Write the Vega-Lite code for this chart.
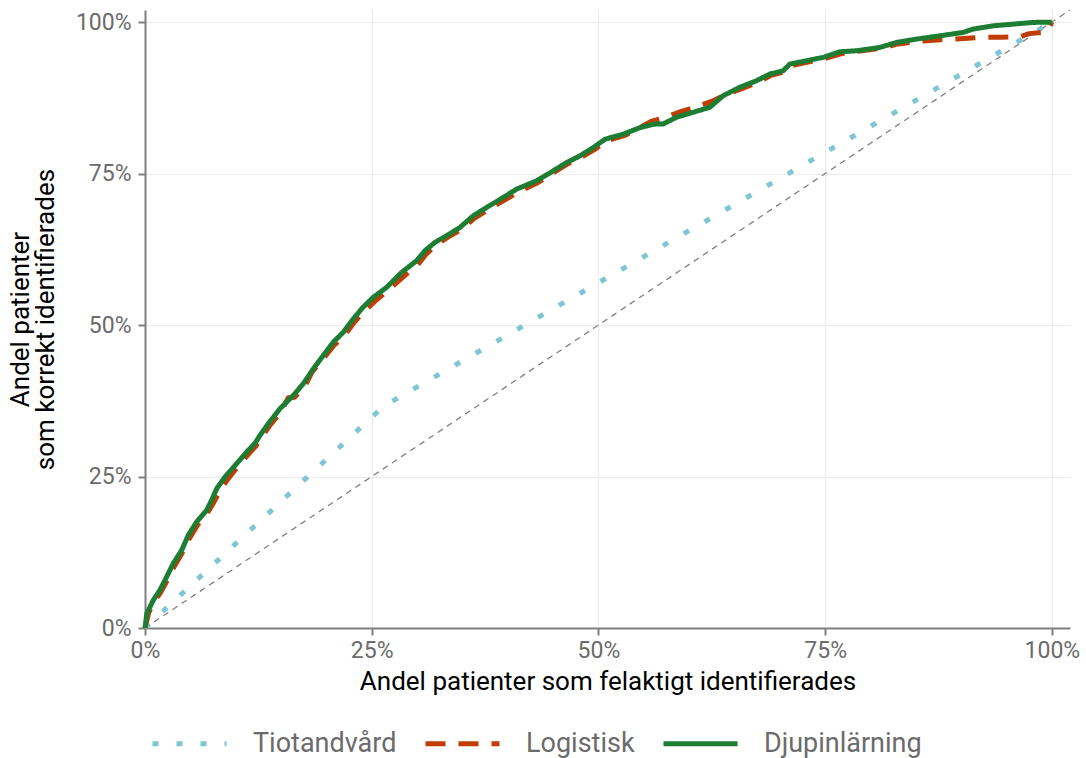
{
  "$schema": "https://vega.github.io/schema/vega-lite/v6.json",
  "width": 925,
  "height": 618,
  "autosize": {"type": "none"},
  "padding": {"left": 145, "top": 10, "right": 16, "bottom": 130},
  "background": "white",
  "config": {
    "view": {"stroke": null},
    "font": "Roboto",
    "axis": {
      "domainColor": "#808080",
      "domainWidth": 2,
      "tickColor": "#808080",
      "tickWidth": 2,
      "tickSize": 7,
      "gridColor": "#ebebeb",
      "gridWidth": 1,
      "labelColor": "#6b6b6b",
      "labelFontSize": 23,
      "labelFont": "Roboto",
      "titleFont": "Roboto",
      "titleFontSize": 26,
      "titleLineHeight": 25,
      "titleFontWeight": "normal",
      "titleColor": "#000000"
    },
    "legend": {
      "labelFont": "Roboto",
      "labelFontSize": 27,
      "labelColor": "#6b6b6b"
    }
  },
  "datasets": {
    "roc": [
      {"model": "Tiotandvård", "i": 0, "fpr": 0.0, "tpr": 0.0},
      {"model": "Tiotandvård", "i": 1, "fpr": 0.263, "tpr": 0.366},
      {"model": "Tiotandvård", "i": 2, "fpr": 1.0, "tpr": 1.0},

      {"model": "Logistisk", "i": 0, "fpr": 0.0, "tpr": 0.0},
      {"model": "Logistisk", "i": 1, "fpr": 0.002, "tpr": 0.012},
      {"model": "Logistisk", "i": 2, "fpr": 0.004, "tpr": 0.025},
      {"model": "Logistisk", "i": 3, "fpr": 0.010, "tpr": 0.043},
      {"model": "Logistisk", "i": 4, "fpr": 0.017, "tpr": 0.058},
      {"model": "Logistisk", "i": 5, "fpr": 0.025, "tpr": 0.080},
      {"model": "Logistisk", "i": 6, "fpr": 0.032, "tpr": 0.101},
      {"model": "Logistisk", "i": 7, "fpr": 0.041, "tpr": 0.124},
      {"model": "Logistisk", "i": 8, "fpr": 0.049, "tpr": 0.148},
      {"model": "Logistisk", "i": 9, "fpr": 0.058, "tpr": 0.170},
      {"model": "Logistisk", "i": 10, "fpr": 0.068, "tpr": 0.188},
      {"model": "Logistisk", "i": 11, "fpr": 0.075, "tpr": 0.205},
      {"model": "Logistisk", "i": 12, "fpr": 0.081, "tpr": 0.222},
      {"model": "Logistisk", "i": 13, "fpr": 0.090, "tpr": 0.243},
      {"model": "Logistisk", "i": 14, "fpr": 0.102, "tpr": 0.266},
      {"model": "Logistisk", "i": 15, "fpr": 0.113, "tpr": 0.285},
      {"model": "Logistisk", "i": 16, "fpr": 0.122, "tpr": 0.300},
      {"model": "Logistisk", "i": 17, "fpr": 0.128, "tpr": 0.313},
      {"model": "Logistisk", "i": 18, "fpr": 0.137, "tpr": 0.333},
      {"model": "Logistisk", "i": 19, "fpr": 0.150, "tpr": 0.357},
      {"model": "Logistisk", "i": 20, "fpr": 0.158, "tpr": 0.380},
      {"model": "Logistisk", "i": 21, "fpr": 0.165, "tpr": 0.381},
      {"model": "Logistisk", "i": 22, "fpr": 0.176, "tpr": 0.398},
      {"model": "Logistisk", "i": 23, "fpr": 0.184, "tpr": 0.422},
      {"model": "Logistisk", "i": 24, "fpr": 0.197, "tpr": 0.445},
      {"model": "Logistisk", "i": 25, "fpr": 0.208, "tpr": 0.466},
      {"model": "Logistisk", "i": 26, "fpr": 0.220, "tpr": 0.483},
      {"model": "Logistisk", "i": 27, "fpr": 0.231, "tpr": 0.505},
      {"model": "Logistisk", "i": 28, "fpr": 0.242, "tpr": 0.523},
      {"model": "Logistisk", "i": 29, "fpr": 0.254, "tpr": 0.540},
      {"model": "Logistisk", "i": 30, "fpr": 0.268, "tpr": 0.557},
      {"model": "Logistisk", "i": 31, "fpr": 0.285, "tpr": 0.580},
      {"model": "Logistisk", "i": 32, "fpr": 0.301, "tpr": 0.600},
      {"model": "Logistisk", "i": 33, "fpr": 0.310, "tpr": 0.617},
      {"model": "Logistisk", "i": 34, "fpr": 0.321, "tpr": 0.632},
      {"model": "Logistisk", "i": 35, "fpr": 0.334, "tpr": 0.645},
      {"model": "Logistisk", "i": 36, "fpr": 0.349, "tpr": 0.658},
      {"model": "Logistisk", "i": 37, "fpr": 0.363, "tpr": 0.676},
      {"model": "Logistisk", "i": 38, "fpr": 0.378, "tpr": 0.690},
      {"model": "Logistisk", "i": 39, "fpr": 0.396, "tpr": 0.706},
      {"model": "Logistisk", "i": 40, "fpr": 0.411, "tpr": 0.719},
      {"model": "Logistisk", "i": 41, "fpr": 0.433, "tpr": 0.735},
      {"model": "Logistisk", "i": 42, "fpr": 0.451, "tpr": 0.752},
      {"model": "Logistisk", "i": 43, "fpr": 0.466, "tpr": 0.766},
      {"model": "Logistisk", "i": 44, "fpr": 0.481, "tpr": 0.777},
      {"model": "Logistisk", "i": 45, "fpr": 0.496, "tpr": 0.790},
      {"model": "Logistisk", "i": 46, "fpr": 0.509, "tpr": 0.804},
      {"model": "Logistisk", "i": 47, "fpr": 0.529, "tpr": 0.813},
      {"model": "Logistisk", "i": 48, "fpr": 0.547, "tpr": 0.827},
      {"model": "Logistisk", "i": 49, "fpr": 0.558, "tpr": 0.836},
      {"model": "Logistisk", "i": 50, "fpr": 0.575, "tpr": 0.843},
      {"model": "Logistisk", "i": 51, "fpr": 0.590, "tpr": 0.852},
      {"model": "Logistisk", "i": 52, "fpr": 0.608, "tpr": 0.860},
      {"model": "Logistisk", "i": 53, "fpr": 0.626, "tpr": 0.870},
      {"model": "Logistisk", "i": 54, "fpr": 0.640, "tpr": 0.880},
      {"model": "Logistisk", "i": 55, "fpr": 0.658, "tpr": 0.890},
      {"model": "Logistisk", "i": 56, "fpr": 0.676, "tpr": 0.901},
      {"model": "Logistisk", "i": 57, "fpr": 0.690, "tpr": 0.912},
      {"model": "Logistisk", "i": 58, "fpr": 0.705, "tpr": 0.918},
      {"model": "Logistisk", "i": 59, "fpr": 0.713, "tpr": 0.928},
      {"model": "Logistisk", "i": 60, "fpr": 0.731, "tpr": 0.934},
      {"model": "Logistisk", "i": 61, "fpr": 0.750, "tpr": 0.940},
      {"model": "Logistisk", "i": 62, "fpr": 0.768, "tpr": 0.948},
      {"model": "Logistisk", "i": 63, "fpr": 0.786, "tpr": 0.952},
      {"model": "Logistisk", "i": 64, "fpr": 0.812, "tpr": 0.957},
      {"model": "Logistisk", "i": 65, "fpr": 0.830, "tpr": 0.964},
      {"model": "Logistisk", "i": 66, "fpr": 0.852, "tpr": 0.968},
      {"model": "Logistisk", "i": 67, "fpr": 0.877, "tpr": 0.971},
      {"model": "Logistisk", "i": 68, "fpr": 0.903, "tpr": 0.973},
      {"model": "Logistisk", "i": 69, "fpr": 0.925, "tpr": 0.975},
      {"model": "Logistisk", "i": 70, "fpr": 0.945, "tpr": 0.975},
      {"model": "Logistisk", "i": 71, "fpr": 0.965, "tpr": 0.976},
      {"model": "Logistisk", "i": 72, "fpr": 0.975, "tpr": 0.981},
      {"model": "Logistisk", "i": 73, "fpr": 0.990, "tpr": 0.983},
      {"model": "Logistisk", "i": 74, "fpr": 0.996, "tpr": 0.986},
      {"model": "Logistisk", "i": 75, "fpr": 1.0, "tpr": 1.0},

      {"model": "Djupinlärning", "i": 0, "fpr": 0.0, "tpr": 0.0},
      {"model": "Djupinlärning", "i": 1, "fpr": 0.002, "tpr": 0.024},
      {"model": "Djupinlärning", "i": 2, "fpr": 0.0092, "tpr": 0.0461},
      {"model": "Djupinlärning", "i": 3, "fpr": 0.0165, "tpr": 0.0626},
      {"model": "Djupinlärning", "i": 4, "fpr": 0.0239, "tpr": 0.0845},
      {"model": "Djupinlärning", "i": 5, "fpr": 0.0312, "tpr": 0.1066},
      {"model": "Djupinlärning", "i": 6, "fpr": 0.0405, "tpr": 0.1285},
      {"model": "Djupinlärning", "i": 7, "fpr": 0.0477, "tpr": 0.1532},
      {"model": "Djupinlärning", "i": 8, "fpr": 0.0570, "tpr": 0.1751},
      {"model": "Djupinlärning", "i": 9, "fpr": 0.0680, "tpr": 0.1944},
      {"model": "Djupinlärning", "i": 10, "fpr": 0.0735, "tpr": 0.2109},
      {"model": "Djupinlärning", "i": 11, "fpr": 0.0791, "tpr": 0.2301},
      {"model": "Djupinlärning", "i": 12, "fpr": 0.0882, "tpr": 0.2493},
      {"model": "Djupinlärning", "i": 13, "fpr": 0.1011, "tpr": 0.2713},
      {"model": "Djupinlärning", "i": 14, "fpr": 0.1121, "tpr": 0.2905},
      {"model": "Djupinlärning", "i": 15, "fpr": 0.1213, "tpr": 0.3048},
      {"model": "Djupinlärning", "i": 16, "fpr": 0.1268, "tpr": 0.3180},
      {"model": "Djupinlärning", "i": 17, "fpr": 0.1359, "tpr": 0.3372},
      {"model": "Djupinlärning", "i": 18, "fpr": 0.1488, "tpr": 0.3619},
      {"model": "Djupinlärning", "i": 19, "fpr": 0.1635, "tpr": 0.3839},
      {"model": "Djupinlärning", "i": 20, "fpr": 0.1745, "tpr": 0.4031},
      {"model": "Djupinlärning", "i": 21, "fpr": 0.1856, "tpr": 0.4278},
      {"model": "Djupinlärning", "i": 22, "fpr": 0.1966, "tpr": 0.4498},
      {"model": "Djupinlärning", "i": 23, "fpr": 0.2076, "tpr": 0.4717},
      {"model": "Djupinlärning", "i": 24, "fpr": 0.2186, "tpr": 0.4881},
      {"model": "Djupinlärning", "i": 25, "fpr": 0.2297, "tpr": 0.5102},
      {"model": "Djupinlärning", "i": 26, "fpr": 0.2404, "tpr": 0.5293},
      {"model": "Djupinlärning", "i": 27, "fpr": 0.2517, "tpr": 0.5458},
      {"model": "Djupinlärning", "i": 28, "fpr": 0.2665, "tpr": 0.5623},
      {"model": "Djupinlärning", "i": 29, "fpr": 0.2830, "tpr": 0.5870},
      {"model": "Djupinlärning", "i": 30, "fpr": 0.2996, "tpr": 0.6063},
      {"model": "Djupinlärning", "i": 31, "fpr": 0.3087, "tpr": 0.6227},
      {"model": "Djupinlärning", "i": 32, "fpr": 0.3197, "tpr": 0.6364},
      {"model": "Djupinlärning", "i": 33, "fpr": 0.3326, "tpr": 0.6474},
      {"model": "Djupinlärning", "i": 34, "fpr": 0.3473, "tpr": 0.6611},
      {"model": "Djupinlärning", "i": 35, "fpr": 0.3620, "tpr": 0.6804},
      {"model": "Djupinlärning", "i": 36, "fpr": 0.3767, "tpr": 0.6941},
      {"model": "Djupinlärning", "i": 37, "fpr": 0.3950, "tpr": 0.7106},
      {"model": "Djupinlärning", "i": 38, "fpr": 0.4098, "tpr": 0.7244},
      {"model": "Djupinlärning", "i": 39, "fpr": 0.4319, "tpr": 0.7381},
      {"model": "Djupinlärning", "i": 40, "fpr": 0.4502, "tpr": 0.7545},
      {"model": "Djupinlärning", "i": 41, "fpr": 0.4649, "tpr": 0.7682},
      {"model": "Djupinlärning", "i": 42, "fpr": 0.4796, "tpr": 0.7792},
      {"model": "Djupinlärning", "i": 43, "fpr": 0.4943, "tpr": 0.7929},
      {"model": "Djupinlärning", "i": 44, "fpr": 0.5072, "tpr": 0.8067},
      {"model": "Djupinlärning", "i": 45, "fpr": 0.5273, "tpr": 0.8150},
      {"model": "Djupinlärning", "i": 46, "fpr": 0.5458, "tpr": 0.8259},
      {"model": "Djupinlärning", "i": 47, "fpr": 0.5604, "tpr": 0.8315},
      {"model": "Djupinlärning", "i": 48, "fpr": 0.5715, "tpr": 0.8320},
      {"model": "Djupinlärning", "i": 49, "fpr": 0.5862, "tpr": 0.8430},
      {"model": "Djupinlärning", "i": 50, "fpr": 0.6045, "tpr": 0.8512},
      {"model": "Djupinlärning", "i": 51, "fpr": 0.6229, "tpr": 0.8595},
      {"model": "Djupinlärning", "i": 52, "fpr": 0.6376, "tpr": 0.8786},
      {"model": "Djupinlärning", "i": 53, "fpr": 0.6560, "tpr": 0.8925},
      {"model": "Djupinlärning", "i": 54, "fpr": 0.6744, "tpr": 0.9033},
      {"model": "Djupinlärning", "i": 55, "fpr": 0.6891, "tpr": 0.9143},
      {"model": "Djupinlärning", "i": 56, "fpr": 0.7037, "tpr": 0.9198},
      {"model": "Djupinlärning", "i": 57, "fpr": 0.7111, "tpr": 0.9308},
      {"model": "Djupinlärning", "i": 58, "fpr": 0.7295, "tpr": 0.9363},
      {"model": "Djupinlärning", "i": 59, "fpr": 0.7478, "tpr": 0.9418},
      {"model": "Djupinlärning", "i": 60, "fpr": 0.7663, "tpr": 0.9511},
      {"model": "Djupinlärning", "i": 61, "fpr": 0.7847, "tpr": 0.9527},
      {"model": "Djupinlärning", "i": 62, "fpr": 0.8104, "tpr": 0.9583},
      {"model": "Djupinlärning", "i": 63, "fpr": 0.8288, "tpr": 0.9665},
      {"model": "Djupinlärning", "i": 64, "fpr": 0.8508, "tpr": 0.9720},
      {"model": "Djupinlärning", "i": 65, "fpr": 0.8765, "tpr": 0.9774},
      {"model": "Djupinlärning", "i": 66, "fpr": 0.9022, "tpr": 0.9830},
      {"model": "Djupinlärning", "i": 67, "fpr": 0.9132, "tpr": 0.9885},
      {"model": "Djupinlärning", "i": 68, "fpr": 0.9353, "tpr": 0.9939},
      {"model": "Djupinlärning", "i": 69, "fpr": 0.9573, "tpr": 0.9967},
      {"model": "Djupinlärning", "i": 70, "fpr": 0.9794, "tpr": 0.9995},
      {"model": "Djupinlärning", "i": 71, "fpr": 1.0, "tpr": 1.0}
    ],
    "diag": [{"x0": 0, "y0": 0, "x1": 1.02, "y1": 1.02}]
  },
  "layer": [
    {
      "data": {"name": "diag"},
      "mark": {"type": "rule", "color": "#7f7f7f", "strokeWidth": 1.3, "strokeDash": [6, 5]},
      "encoding": {
        "x": {"field": "x0", "type": "quantitative", "scale": {"domain": [0, 1.02], "nice": false, "zero": false}},
        "y": {"field": "y0", "type": "quantitative", "scale": {"domain": [0, 1.02], "nice": false, "zero": false}},
        "x2": {"field": "x1"},
        "y2": {"field": "y1"}
      }
    },
    {
      "data": {"name": "roc"},
      "mark": {"type": "line", "strokeWidth": 5, "strokeCap": "butt", "strokeJoin": "round"},
      "encoding": {
        "x": {
          "field": "fpr", "type": "quantitative",
          "scale": {"domain": [0, 1.02], "nice": false, "zero": false},
          "axis": {
            "title": "Andel patienter som felaktigt identifierades",
            "values": [0, 0.25, 0.5, 0.75, 1],
            "format": ".0%",
            "labelPadding": 4,
            "titlePadding": 6,
            "labelFlush": false
          }
        },
        "y": {
          "field": "tpr", "type": "quantitative",
          "scale": {"domain": [0, 1.02], "nice": false, "zero": false},
          "axis": {
            "title": ["Andel patienter", "som korrekt identifierades"],
            "values": [0, 0.25, 0.5, 0.75, 1],
            "format": ".0%",
            "labelPadding": 7,
            "titlePadding": 17,
            "labelFlush": false
          }
        },
        "color": {
          "field": "model", "type": "nominal",
          "scale": {"domain": ["Tiotandvård", "Logistisk", "Djupinlärning"], "range": ["#7fc6d4", "#c03d05", "#1d7d33"]},
          "legend": {
            "title": null,
            "orient": "none",
            "direction": "horizontal",
            "legendX": 5,
            "legendY": 694,
            "symbolType": "stroke",
            "symbolSize": 5476,
            "symbolStrokeWidth": 5,
            "labelOffset": 24,
            "columnPadding": 18
          }
        },
        "strokeDash": {
          "field": "model", "type": "nominal",
          "scale": {"domain": ["Tiotandvård", "Logistisk", "Djupinlärning"], "range": [[6, 18], [20, 13], [1, 0]]},
          "legend": null
        },
        "order": {"field": "i", "type": "quantitative"}
      }
    }
  ]
}
